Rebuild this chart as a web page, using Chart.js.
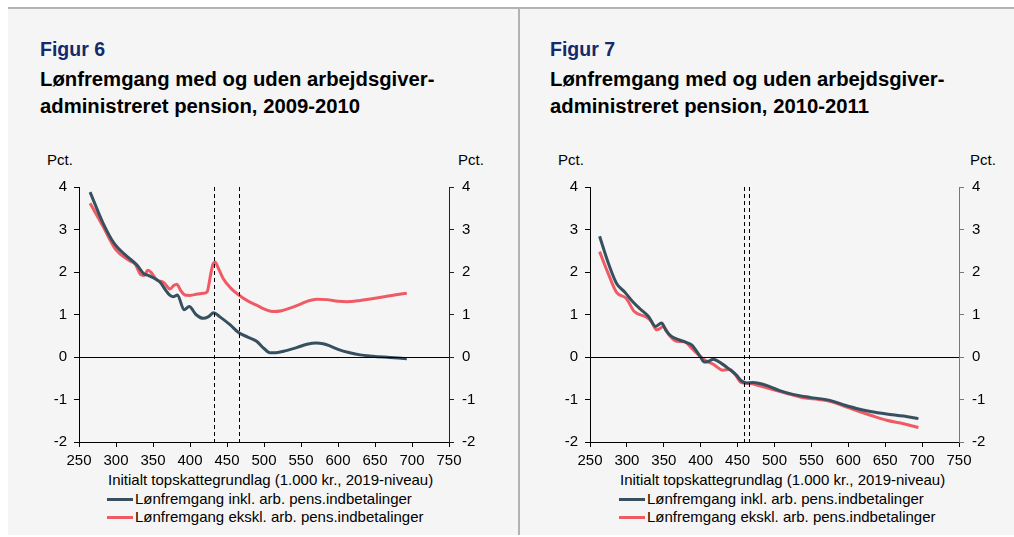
<!DOCTYPE html>
<html>
<head>
<meta charset="utf-8">
<script src="https://cdn.jsdelivr.net/npm/chart.js@4.4.1/dist/chart.umd.min.js"></script>
<style>
  html, body { margin:0; padding:0; background:#fff; width:1014px; height:537px; overflow:hidden; font-family:"Liberation Sans", Arial, sans-serif; }
  #frame { position:absolute; left:8px; top:7px; width:1006px; height:528px; background:#f5f5f5; border-top:2px solid #b3b3b3; box-sizing:border-box; }
  #divider { position:absolute; left:518px; top:7px; width:2px; height:528px; background:#b3b3b3; }
  .fig { position:absolute; font-weight:bold; font-size:19.5px; color:#142a6b; }
  .ttl { position:absolute; font-weight:bold; font-size:20.3px; color:#000; line-height:27px; white-space:nowrap; }
  .pct { position:absolute; font-size:15px; color:#000; }
  .xt { position:absolute; font-size:15px; color:#000; white-space:nowrap; }
  .leg { position:absolute; font-size:15px; color:#000; white-space:nowrap; line-height:18px; }
  .leg span.sw { display:inline-block; width:26px; height:3px; vertical-align:middle; margin-right:2px; position:relative; top:-1px; }
  canvas { position:absolute; }
</style>
</head>
<body>
<div id="frame"></div>
<div id="divider"></div>

<div class="fig" style="left:40px; top:38px;">Figur 6</div>
<div class="ttl" style="left:40px; top:66px;">Lønfremgang med og uden arbejdsgiver-<br>administreret pension, 2009-2010</div>
<div class="pct" style="left:47px; top:151px;">Pct.</div>
<div class="pct" style="left:458px; top:151px;">Pct.</div>
<canvas id="c1" width="519" height="300" style="left:0px; top:170px;"></canvas>
<div class="xt" style="left:108px; top:471px;">Initialt topskattegrundlag (1.000 kr., 2019-niveau)</div>
<div class="leg" style="left:107px; top:490px;"><span class="sw" style="background:#37505f"></span>Lønfremgang inkl. arb. pens.indbetalinger</div>
<div class="leg" style="left:107px; top:508px;"><span class="sw" style="background:#ef5a64"></span>Lønfremgang ekskl. arb. pens.indbetalinger</div>

<div class="fig" style="left:550px; top:38px;">Figur 7</div>
<div class="ttl" style="left:550px; top:66px;">Lønfremgang med og uden arbejdsgiver-<br>administreret pension, 2010-2011</div>
<div class="pct" style="left:558px; top:151px;">Pct.</div>
<div class="pct" style="left:970px; top:151px;">Pct.</div>
<canvas id="c2" width="495" height="300" style="left:519px; top:170px;"></canvas>
<div class="xt" style="left:620px; top:471px;">Initialt topskattegrundlag (1.000 kr., 2019-niveau)</div>
<div class="leg" style="left:619px; top:490px;"><span class="sw" style="background:#37505f"></span>Lønfremgang inkl. arb. pens.indbetalinger</div>
<div class="leg" style="left:619px; top:508px;"><span class="sw" style="background:#ef5a64"></span>Lønfremgang ekskl. arb. pens.indbetalinger</div>

<script>
// ---- Data ----
const seriesLabels = ["Lønfremgang inkl. arb. pens.indbetalinger", "Lønfremgang ekskl. arb. pens.indbetalinger"];

// Figur 6 (2009-2010)
const fig6InklX = [265,282,298,314,328,337,345,359,368,373,378,383,392,399,408,418,425,432,440,454,466,478,490,500,508,516,530,544,558,571,580,589,600,616,630,647,670,693];
const fig6InklY = [3.88,3.17,2.66,2.38,2.17,1.97,1.91,1.77,1.55,1.45,1.42,1.46,1.11,1.19,1.0,0.91,0.95,1.04,0.95,0.76,0.57,0.47,0.37,0.2,0.1,0.1,0.15,0.22,0.3,0.33,0.31,0.26,0.18,0.1,0.05,0.02,-0.01,-0.04];
const fig6EksklX = [265,282,300,318,326,334,338,343,348,355,364,373,378,382,388,393,400,410,418,423,428,431,434,438,445,455,466,478,490,500,512,524,535,550,560,571,585,600,612,630,650,670,693];
const fig6EksklY = [3.62,3.09,2.52,2.27,2.18,1.93,1.92,2.04,1.98,1.81,1.76,1.6,1.68,1.71,1.55,1.46,1.45,1.48,1.5,1.53,1.95,2.18,2.23,2.1,1.84,1.62,1.46,1.32,1.22,1.13,1.07,1.09,1.15,1.25,1.32,1.36,1.35,1.31,1.3,1.33,1.38,1.44,1.5];
const fig6Markers = [432, 466];

// Figur 7 (2010-2011)
const fig7InklX = [263,275,286,297,308,318,329,339,347,353,360,370,381,388,399,405,411,417,428,439,448,455,462,471,484,495,507,525,548,575,593,611,630,652,675,695];
const fig7InklY = [2.84,2.2,1.73,1.53,1.3,1.13,0.96,0.72,0.8,0.62,0.49,0.41,0.34,0.28,0.02,-0.12,-0.1,-0.05,-0.15,-0.29,-0.42,-0.56,-0.61,-0.6,-0.64,-0.71,-0.79,-0.88,-0.95,-1.02,-1.12,-1.21,-1.28,-1.34,-1.39,-1.45];
const fig7EksklX = [263,275,286,299,310,326,333,340,344,349,358,367,378,388,399,408,417,430,439,447,455,466,480,494,515,539,560,575,593,611,630,652,675,695];
const fig7EksklY = [2.48,1.95,1.52,1.38,1.07,0.94,0.84,0.64,0.66,0.72,0.5,0.37,0.36,0.2,0.02,-0.1,-0.17,-0.31,-0.29,-0.42,-0.6,-0.62,-0.68,-0.75,-0.85,-0.96,-1.0,-1.04,-1.15,-1.26,-1.37,-1.49,-1.57,-1.66];
const fig7Markers = [458, 465.5];

// Axis ranges / ticks
const xTicks = [250,300,350,400,450,500,550,600,650,700,750];
const yTicks = [-2,-1,0,1,2,3,4];

// ---- Styling ----
const COL_INKL = "#37505f";
const COL_EKSKL = "#ef5a64";
const FONT = { family: "'Liberation Sans', Arial, sans-serif", size: 15 };

function pts(xs, ys) { return xs.map((x, i) => ({ x: x, y: ys[i] })); }

const refLines = {
  id: "refLines",
  afterDatasetsDraw(chart, args, opts) {
    const { ctx, chartArea: a, scales } = chart;
    ctx.save();
    const y0 = Math.round(scales.y.getPixelForValue(0)) + 0.5;
    ctx.strokeStyle = "#000"; ctx.lineWidth = 1; ctx.setLineDash([]);
    ctx.beginPath(); ctx.moveTo(a.left, y0); ctx.lineTo(a.right, y0); ctx.stroke();
    ctx.setLineDash([4, 3]);
    (opts.values || []).forEach(v => {
      const x = Math.round(scales.x.getPixelForValue(v)) + 0.5;
      ctx.beginPath(); ctx.moveTo(x, a.top); ctx.lineTo(x, a.bottom); ctx.stroke();
    });
    ctx.restore();
  }
};

function makeChart(id, inklX, inklY, eksklX, eksklY, markers, leftW, rightW, rightColor) {
  const tickCfg = (color) => ({
    display: true, drawOnChartArea: false, drawTicks: true, tickLength: 5, tickColor: color, lineWidth: 1
  });
  return new Chart(document.getElementById(id), {
    type: "line",
    data: {
      datasets: [
        { label: seriesLabels[0], data: pts(inklX, inklY), borderColor: COL_INKL, borderWidth: 3, pointRadius: 0, cubicInterpolationMode: "monotone", fill: false, yAxisID: "y" },
        { label: seriesLabels[1], data: pts(eksklX, eksklY), borderColor: COL_EKSKL, borderWidth: 3, pointRadius: 0, cubicInterpolationMode: "monotone", fill: false, yAxisID: "y" }
      ]
    },
    options: {
      responsive: false, animation: false, devicePixelRatio: 1,
      layout: { padding: { top: 14, left: 0, right: 0, bottom: 0 } },
      plugins: { legend: { display: false }, tooltip: { enabled: false }, refLines: { values: markers } },
      scales: {
        x: {
          type: "linear", min: xTicks[0], max: xTicks[xTicks.length - 1],
          afterBuildTicks: s => { s.ticks = xTicks.map(v => ({ value: v })); },
          afterFit: s => { s.height = 28; },
          ticks: { color: "#000", font: FONT, padding: 5, maxRotation: 0, autoSkip: false },
          grid: tickCfg("#000"),
          border: { display: true, color: "#000", width: 1 }
        },
        y: {
          position: "left", min: yTicks[0], max: yTicks[yTicks.length - 1],
          afterBuildTicks: s => { s.ticks = yTicks.map(v => ({ value: v })); },
          afterFit: s => { s.width = leftW; },
          ticks: { color: "#000", font: FONT, padding: 7, autoSkip: false },
          grid: tickCfg("#000"),
          border: { display: true, color: "#000", width: 1 }
        },
        y2: {
          position: "right", min: yTicks[0], max: yTicks[yTicks.length - 1],
          afterBuildTicks: s => { s.ticks = yTicks.map(v => ({ value: v })); },
          afterFit: s => { s.width = rightW; },
          ticks: { color: "#000", font: FONT, padding: 8, autoSkip: false },
          grid: tickCfg(rightColor),
          border: { display: true, color: rightColor, width: 1 }
        }
      }
    },
    plugins: [refLines]
  });
}

makeChart("c1", fig6InklX, fig6InklY, fig6EksklX, fig6EksklY, fig6Markers, 79, 70, "#222");
makeChart("c2", fig7InklX, fig7InklY, fig7EksklX, fig7EksklY, fig7Markers, 71, 55, "#777");
</script>
</body>
</html>
